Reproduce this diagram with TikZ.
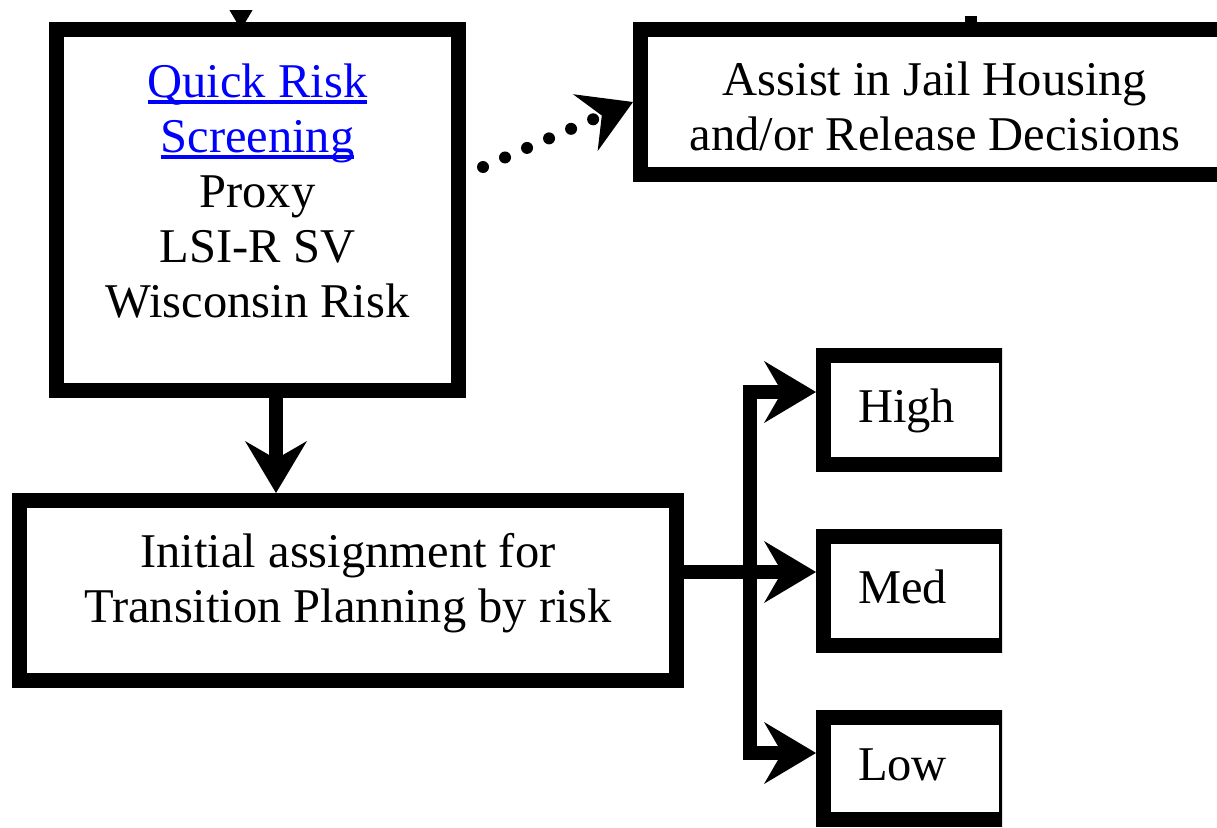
\documentclass[tikz,border=0pt]{standalone}
\usepackage{fontspec}
\setmainfont{Liberation Serif}
\usetikzlibrary{arrows.meta}
\definecolor{linkblue}{RGB}{0,0,255}
\tikzset{>={Stealth[length=52pt,width=62pt,inset=18pt,line width=0pt]}}
\tikzset{
  flowbox/.style={draw, line width=15pt, align=center, inner sep=0pt},
  riskbox/.style={draw, line width=15pt, align=left, text width=114pt,
    inner xsep=34.5pt, inner ysep=0pt, minimum height=109pt,
    text height=33pt, text depth=9pt},
  flow/.style={->, line width=14pt},
  dotflow/.style={->, line width=12pt, line cap=round, dash pattern=on 0pt off 24pt},
}
% underlined link text
\newcommand\linkline[1]{\textcolor{linkblue}{\setbox0\hbox{#1}\rlap{\rule[-7pt]{\wd0}{4pt}}\box0}}

\begin{document}
\begin{tikzpicture}[x=1pt, y=-1pt, every node/.style={font=\fontsize{48.5pt}{55pt}\selectfont}]

  \useasboundingbox (0,0) rectangle (1217,827);
  \clip (0,10) rectangle (1217,827);

  \node[flowbox, minimum width=402pt, minimum height=361pt, text height=240pt, text depth=26pt]
    (quick) at (257.5,210) {\linkline{Quick Risk}\\ \linkline{Screening}\\ Proxy\\ LSI-R SV\\ Wisconsin Risk};
  \node[flowbox, minimum width=589pt, minimum height=145pt, text height=110pt, text depth=14pt]
    (assist) at (935,102) {Assist in Jail Housing\\ and/or Release Decisions};
  \node[flowbox, minimum width=657pt, minimum height=180pt, text height=90pt, text depth=27pt]
    (plan) at (348,590.5) {Initial assignment for\\ Transition Planning by risk};

  \begin{scope}
    \clip (0,0) rectangle (1002,827);
    \node[riskbox] (high) at (915,410) {High};
    \node[riskbox] (med) at (915,591) {Med};
    \node[riskbox, minimum height=102pt] (low) at (915,768.5) {Low};
  \end{scope}

  \coordinate (topin) at (241,-60);
  \coordinate (topout) at (971,16);
  \coordinate (dotstart) at (483,167);
  \coordinate (split) at (750,572);

  \draw[flow, shorten >=-7.5pt] (topin) -- (topin |- quick.north); %% in -> quick
  \draw[line width=12pt] (topout |- assist.north) -- (topout); %% assist -> out

  \draw[dotflow] (dotstart) -- (assist.west); %% quick -> assist
  \draw[flow] ([xshift=18.5pt]quick.south) -- ([xshift=18.5pt]quick.south |- plan.north); %% quick -> plan

  \draw[flow] ([yshift=18.5pt]plan.east) -- ([yshift=19pt]med.west); %% plan -> med
  \draw[flow] (split) |- ([yshift=18pt]high.west); %% plan -> high
  \draw[flow] (split) |- ([yshift=15.5pt]low.west); %% plan -> low

\end{tikzpicture}
\end{document}
